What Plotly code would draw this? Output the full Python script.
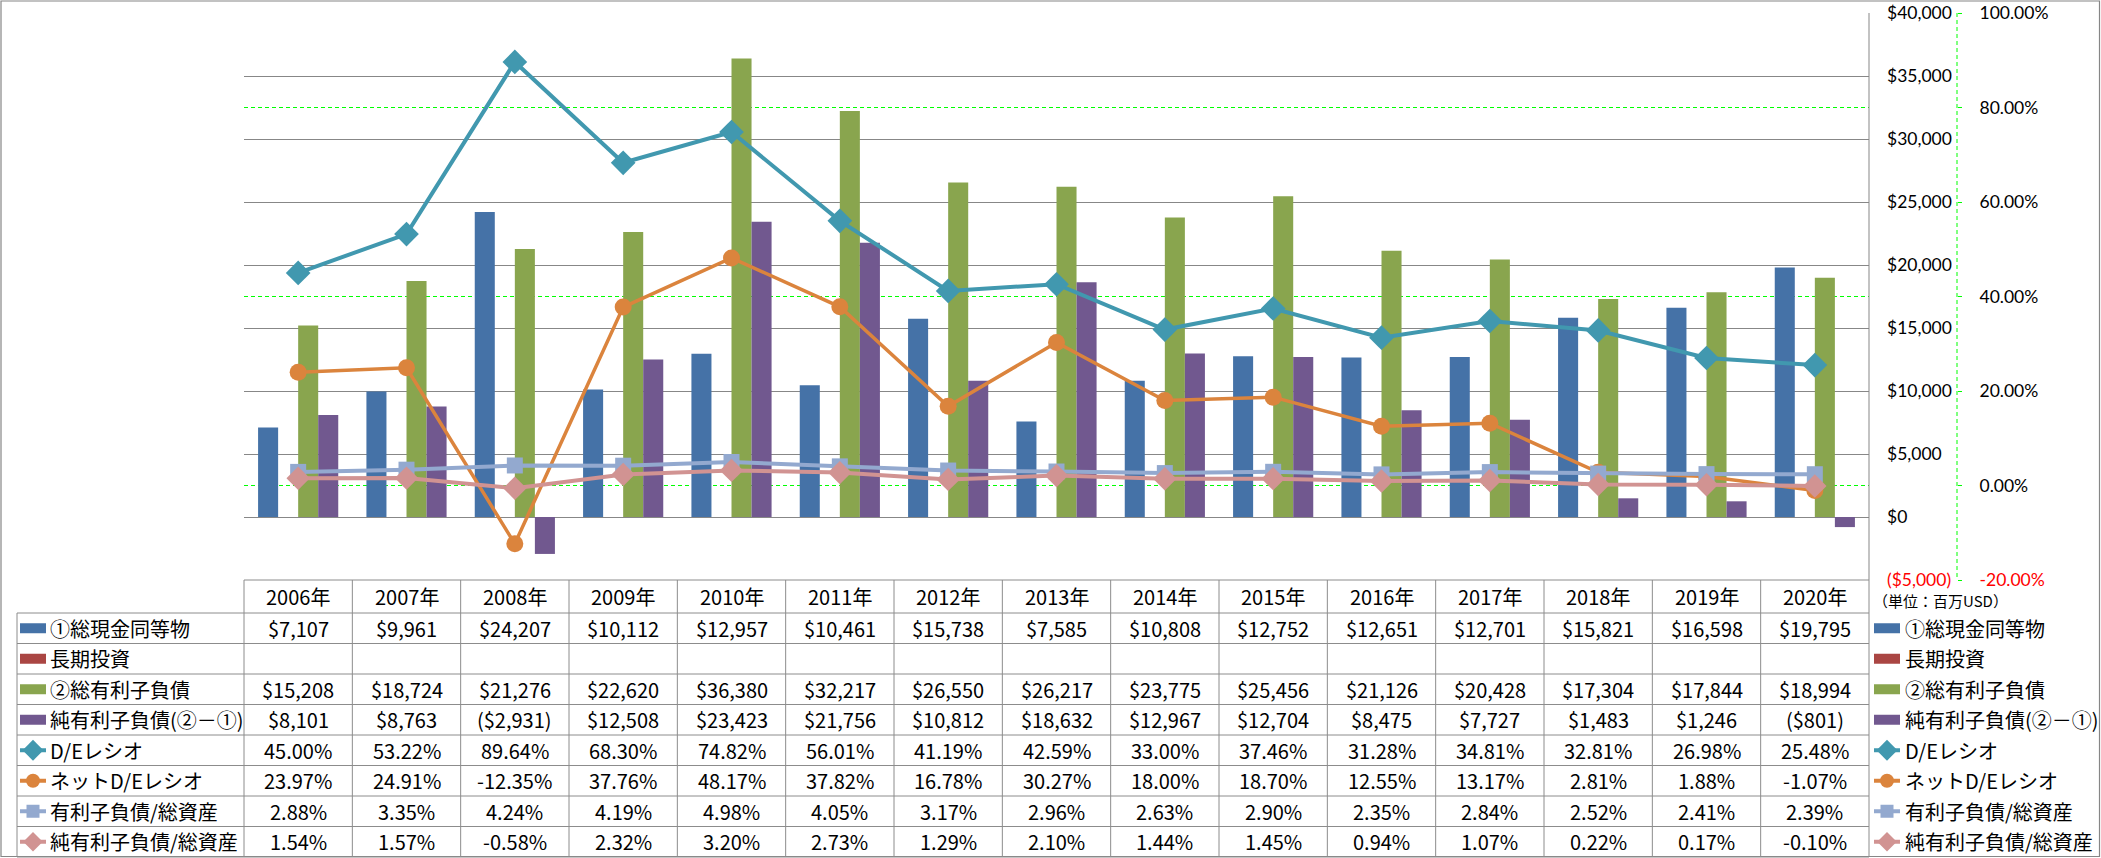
import plotly.graph_objects as go

W, H = 2101, 858
FONT = "Noto Sans CJK JP"
TICK_FONT = "Lato"

# ---------------- data ----------------
years = ["2006年", "2007年", "2008年", "2009年", "2010年", "2011年", "2012年", "2013年",
         "2014年", "2015年", "2016年", "2017年", "2018年", "2019年", "2020年"]
cash = [7107, 9961, 24207, 10112, 12957, 10461, 15738, 7585, 10808, 12752, 12651, 12701, 15821, 16598, 19795]
lt_invest = [None] * 15
debt = [15208, 18724, 21276, 22620, 36380, 32217, 26550, 26217, 23775, 25456, 21126, 20428, 17304, 17844, 18994]
net_debt = [8101, 8763, -2931, 12508, 23423, 21756, 10812, 18632, 12967, 12704, 8475, 7727, 1483, 1246, -801]
de_ratio = [45.00, 53.22, 89.64, 68.30, 74.82, 56.01, 41.19, 42.59, 33.00, 37.46, 31.28, 34.81, 32.81, 26.98, 25.48]
net_de_ratio = [23.97, 24.91, -12.35, 37.76, 48.17, 37.82, 16.78, 30.27, 18.00, 18.70, 12.55, 13.17, 2.81, 1.88, -1.07]
debt_assets = [2.88, 3.35, 4.24, 4.19, 4.98, 4.05, 3.17, 2.96, 2.63, 2.90, 2.35, 2.84, 2.52, 2.41, 2.39]
net_debt_assets = [1.54, 1.57, -0.58, 2.32, 3.20, 2.73, 1.29, 2.10, 1.44, 1.45, 0.94, 1.07, 0.22, 0.17, -0.10]

series_names = ["①総現金同等物", "長期投資", "②総有利子負債", "純有利子負債(②－①)",
                "D/Eレシオ", "ネットD/Eレシオ", "有利子負債/総資産", "純有利子負債/総資産"]

y1_tickvals = [-5000, 0, 5000, 10000, 15000, 20000, 25000, 30000, 35000, 40000]
y1_ticktext = ['<span style="color:#FF0000">($5,000)</span>', "$0", "$5,000", "$10,000", "$15,000",
               "$20,000", "$25,000", "$30,000", "$35,000", "$40,000"]
y2_tickvals = [-20, 0, 20, 40, 60, 80, 100]
y2_ticktext = ['<span style="color:#FF0000">-20.00%</span>', "0.00%", "20.00%", "40.00%",
               "60.00%", "80.00%", "100.00%"]
y2_gridvals = [0, 40, 80]
unit_label = "（単位：百万USD）"

# ---------------- styles ----------------
C_BLUE, C_RED, C_GREEN, C_PURPLE = "#4572A7", "#AA4643", "#89A54E", "#71588F"
C_TEAL, C_ORANGE, C_LBLUE, C_PINK = "#4198AF", "#DB843D", "#93A9CF", "#D19392"
GRID = "#878787"
LINEC = "#8C8C8C"

PLOT_L, PLOT_R = 244, 1869
PLOT_T, PLOT_B = 13, 580
HEAD_B = 613
ROW_H = 30.5
TABLE_L = 17
AX2_X = 1957
COL_W = (PLOT_R - PLOT_L) / len(years)


def px(x):
    return x / W


def py(y):
    return 1 - y / H


def money(v):
    if v is None:
        return ""
    if v < 0:
        return "(${:,})".format(-v)
    return "${:,}".format(v)


def pct(v):
    return "{:.2f}%".format(v)


fig = go.Figure()

bar_series = [(cash, C_BLUE), (lt_invest, C_RED), (debt, C_GREEN), (net_debt, C_PURPLE)]
for i, (vals, col) in enumerate(bar_series):
    fig.add_trace(go.Bar(x=years, y=vals, name=series_names[i], marker=dict(color=col, line=dict(width=0)),
                         offsetgroup=str(i), xaxis="x", yaxis="y", showlegend=False, hoverinfo="skip"))

line_series = [
    (de_ratio, C_TEAL, "diamond", 19, 4),
    (net_de_ratio, C_ORANGE, "circle", 17, 3.5),
    (debt_assets, C_LBLUE, "square", 16, 4),
    (net_debt_assets, C_PINK, "diamond", 18, 4),
]
for j, (vals, col, sym, size, lw) in enumerate(line_series):
    fig.add_trace(go.Scatter(x=years, y=vals, name=series_names[4 + j], mode="lines+markers",
                             line=dict(color=col, width=lw),
                             marker=dict(symbol=sym, size=size, color=col, line=dict(width=0)),
                             xaxis="x", yaxis="y2", showlegend=False, hoverinfo="skip"))

# dummy trace to materialise the green grid axis
fig.add_trace(go.Scatter(x=[], y=[], xaxis="x", yaxis="y3", showlegend=False, hoverinfo="skip"))

shapes = []
annotations = []


def hline(y, x0, x1, color=LINEC, width=1, dash=None):
    d = dict(type="line", xref="x2", yref="y4", x0=x0, x1=x1, y0=y, y1=y,
             line=dict(color=color, width=width), layer="above")
    if dash:
        d["line"]["dash"] = dash
    shapes.append(d)


def vline(x, y0, y1, color=LINEC, width=1, dash=None):
    d = dict(type="line", xref="x2", yref="y4", x0=x, x1=x, y0=y0, y1=y1,
             line=dict(color=color, width=width), layer="above")
    if dash:
        d["line"]["dash"] = dash
    shapes.append(d)


def text(x, y, s, size=20, anchor="center", color="#000000"):
    annotations.append(dict(xref="x2", yref="y4", x=x, y=y, text=s, showarrow=False,
                            xanchor=anchor, yanchor="middle",
                            font=dict(family=FONT, size=size, color=color)))


n_rows = 8
table_bottom = HEAD_B + n_rows * ROW_H

# outer chart border
shapes.append(dict(type="rect", xref="x2", yref="y4", x0=1, x1=W - 1.5, y0=1, y1=H - 1.5,
                   line=dict(color="#868686", width=1.2), layer="above"))
# plot right border
vline(PLOT_R, PLOT_T, PLOT_B, color=GRID)
# secondary axis dashed line
vline(AX2_X, PLOT_T, PLOT_B, color="#00FF00", width=1, dash="4px,3px")

# table lines
hline(PLOT_B, PLOT_L, PLOT_R)
for k in range(n_rows + 1):
    hline(HEAD_B + k * ROW_H, TABLE_L, PLOT_R)
vline(TABLE_L, HEAD_B, table_bottom)
for i in range(len(years) + 1):
    vline(PLOT_L + i * COL_W, PLOT_B, table_bottom)

# header
for i, yr in enumerate(years):
    text(PLOT_L + (i + 0.5) * COL_W, (PLOT_B + HEAD_B) / 2, yr)

# table values
row_values = [
    [money(v) for v in cash],
    [money(v) for v in lt_invest],
    [money(v) for v in debt],
    [money(v) for v in net_debt],
    [pct(v) for v in de_ratio],
    [pct(v) for v in net_de_ratio],
    [pct(v) for v in debt_assets],
    [pct(v) for v in net_debt_assets],
]
row_centers = [HEAD_B + (k + 0.5) * ROW_H for k in range(n_rows)]
for k, vals in enumerate(row_values):
    for i, s in enumerate(vals):
        if s:
            text(PLOT_L + (i + 0.5) * COL_W, row_centers[k], s)

# keys: table label column and right legend
KEY_SETS = [(20, 46, 48), (1874, 1900, 1903)]
bar_cols = [C_BLUE, C_RED, C_GREEN, C_PURPLE]
for (k0, k1, tx) in KEY_SETS:
    for k in range(4):
        shapes.append(dict(type="rect", xref="x2", yref="y4", x0=k0, x1=k1,
                           y0=row_centers[k] - 5, y1=row_centers[k] + 5,
                           fillcolor=bar_cols[k], line=dict(width=0), layer="above"))
        text(tx, row_centers[k], series_names[k], anchor="left")
    for j, (vals, col, sym, size, lw) in enumerate(line_series):
        k = 4 + j
        hline(row_centers[k], k0, k1, color=col, width=4)
        text(tx, row_centers[k], series_names[k], anchor="left")

for j, (vals, col, sym, size, lw) in enumerate(line_series):
    k = 4 + j
    fig.add_trace(go.Scatter(
        x=[(s[0] + s[1]) / 2 for s in KEY_SETS], y=[row_centers[k]] * 2, mode="markers",
        marker=dict(symbol=sym, size=size - 3, color=col, line=dict(width=0)),
        xaxis="x2", yaxis="y4", showlegend=False, hoverinfo="skip"))

text(1871, 600, unit_label, size=15, anchor="left")

tickfont = dict(family=TICK_FONT, size=17.5, color="#000000")

fig.update_layout(
    width=W, height=H,
    margin=dict(l=0, r=0, t=0, b=0, autoexpand=False),
    paper_bgcolor="#FFFFFF", plot_bgcolor="rgba(0,0,0,0)",
    font=dict(family=FONT, size=20, color="#000000"),
    barmode="group", bargap=0.26, bargroupgap=0,
    showlegend=False,
    xaxis=dict(domain=[px(PLOT_L), px(PLOT_R)], type="category", categoryorder="array",
               categoryarray=years, range=[-0.5, len(years) - 0.5], showticklabels=False,
               showgrid=False, zeroline=False, showline=False, ticks="", anchor="y", fixedrange=True),
    yaxis=dict(domain=[py(PLOT_B), py(PLOT_T)], range=[-5000, 40000], side="right", anchor="x",
               tickmode="array", tickvals=y1_tickvals, ticktext=y1_ticktext,
               showgrid=True, gridcolor=GRID, gridwidth=1, zeroline=False, showline=False,
               ticks="", ticklabelstandoff=17, ticklabeloverflow="allow",
               tickfont=tickfont, fixedrange=True),
    yaxis2=dict(overlaying="y", side="right", anchor="free", position=px(AX2_X),
                range=[-20, 100], tickmode="array", tickvals=y2_tickvals, ticktext=y2_ticktext,
                showgrid=False, zeroline=False, showline=False, ticks="outside", ticklen=4,
                tickcolor="#00FF00", ticklabelstandoff=14, ticklabeloverflow="allow",
                tickfont=tickfont, fixedrange=True),
    yaxis3=dict(overlaying="y", side="left", anchor="x", range=[-20, 100], tickmode="array",
                tickvals=y2_gridvals, showticklabels=False, showgrid=True, gridcolor="#00FF00",
                gridwidth=1, griddash="4px,3px", zeroline=False, showline=False, ticks="",
                fixedrange=True),
    xaxis2=dict(domain=[0, 1], range=[0, W], visible=False, anchor="y4", fixedrange=True),
    yaxis4=dict(domain=[0, 1], range=[H, 0], visible=False, anchor="x2", fixedrange=True),
    shapes=shapes,
    annotations=annotations,
)

fig.write_html("out.html", config={"displayModeBar": False},
               post_script="document.body.style.margin='0px';document.body.style.overflow='hidden';")
